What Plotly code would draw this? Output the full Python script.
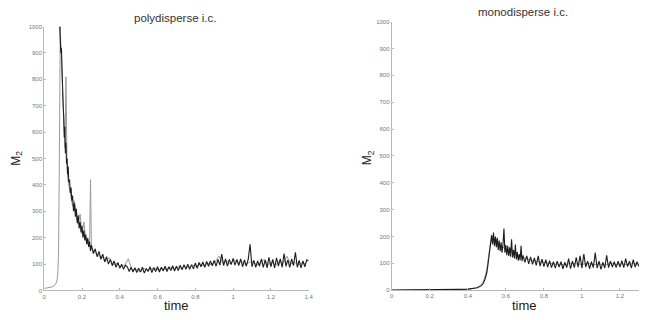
import plotly.graph_objects as go

# ---------------- data: polydisperse i.c. (left) ----------------
poly_t_dark = [0.082, 0.085, 0.088, 0.091, 0.094, 0.097, 0.100, 0.103, 0.106, 0.109,
               0.112, 0.115, 0.118, 0.121, 0.124, 0.127, 0.130, 0.134, 0.138, 0.142,
               0.146, 0.150, 0.155, 0.160, 0.165, 0.170, 0.175, 0.180, 0.185, 0.190,
               0.195, 0.200, 0.205, 0.210, 0.215, 0.220, 0.225, 0.230, 0.235, 0.240,
               0.245, 0.250, 0.26, 0.27, 0.28, 0.29, 0.30, 0.31, 0.32, 0.33,
               0.34, 0.35, 0.36, 0.37, 0.38, 0.39, 0.40, 0.41, 0.42, 0.43,
               0.44, 0.45, 0.46, 0.47, 0.48, 0.49, 0.50, 0.51, 0.52, 0.53,
               0.54, 0.55, 0.56, 0.57, 0.58, 0.59, 0.60, 0.61, 0.62, 0.63,
               0.64, 0.65, 0.66, 0.67, 0.68, 0.69, 0.70, 0.71, 0.72, 0.73,
               0.74, 0.75, 0.76, 0.77, 0.78, 0.79, 0.80, 0.81, 0.82, 0.83,
               0.84, 0.85, 0.86, 0.87, 0.88, 0.89, 0.90, 0.91, 0.92, 0.93,
               0.94, 0.95, 0.96, 0.97, 0.98, 0.99, 1.00, 1.01, 1.02, 1.03,
               1.04, 1.05, 1.06, 1.07, 1.08, 1.09, 1.10, 1.11, 1.12, 1.13,
               1.14, 1.15, 1.16, 1.17, 1.18, 1.19, 1.20, 1.21, 1.22, 1.23,
               1.24, 1.25, 1.26, 1.27, 1.28, 1.29, 1.30, 1.31, 1.32, 1.33,
               1.34, 1.35, 1.36, 1.37, 1.38, 1.39, 1.40]
poly_m2_dark = [1000, 940, 900, 920, 820, 760, 700, 660, 580, 620,
                520, 560, 480, 500, 440, 470, 410, 420, 370, 390,
                340, 360, 300, 330, 280, 310, 255, 285, 235, 260,
                220, 245, 200, 228, 190, 212, 175, 198, 165, 185,
                150, 172, 140, 158, 128, 148, 118, 138, 108, 128,
                100, 118, 94, 112, 88, 106, 84, 100, 80, 96,
                90, 72, 88, 70, 86, 68, 84, 70, 88, 66,
                84, 72, 90, 68, 86, 72, 90, 70, 88, 74,
                92, 72, 90, 76, 94, 74, 92, 76, 96, 78,
                98, 80, 100, 80, 98, 82, 104, 84, 106, 90,
                108, 88, 110, 92, 112, 94, 114, 92, 118, 96,
                138, 94, 120, 92, 118, 98, 122, 96, 118, 94,
                120, 90, 116, 92, 118, 175, 90, 114, 88, 112,
                92, 120, 88, 116, 86, 126, 90, 118, 86, 124,
                92, 120, 88, 140, 92, 116, 88, 120, 94, 145,
                88, 114, 86, 112, 90, 116, 112]

poly_t_grey = [0.0, 0.01, 0.02, 0.03, 0.04, 0.05, 0.055, 0.06, 0.065, 0.07,
               0.073, 0.076, 0.079, 0.082, 0.085, 0.088, 0.091, 0.094, 0.097, 0.100,
               0.105, 0.110, 0.115, 0.118, 0.121, 0.125, 0.13, 0.14, 0.15, 0.16,
               0.17, 0.18, 0.19, 0.20, 0.21, 0.22, 0.23, 0.24, 0.245, 0.25,
               0.265, 0.285, 0.305, 0.325, 0.345, 0.365, 0.385, 0.405, 0.425, 0.445,
               0.465, 0.485, 0.505, 0.525, 0.545, 0.565, 0.585, 0.605, 0.625, 0.645,
               0.665, 0.685, 0.705, 0.725, 0.745, 0.765, 0.785, 0.805, 0.825, 0.845,
               0.865, 0.885, 0.905, 0.925, 0.945, 0.965, 0.985, 1.005, 1.025, 1.045,
               1.065, 1.085, 1.105, 1.125, 1.145, 1.165, 1.185, 1.205, 1.225, 1.245,
               1.265, 1.285, 1.305, 1.325, 1.345, 1.365, 1.385]
poly_m2_grey = [8, 9, 10, 11, 13, 16, 19, 24, 32, 48,
                80, 160, 400, 850, 1000, 930, 870, 800, 740, 660,
                600, 540, 810, 500, 460, 420, 400, 360, 320, 340,
                275, 250, 290, 215, 260, 190, 200, 170, 420, 160,
                148, 132, 128, 112, 124, 98, 102, 90, 94, 120,
                78, 80, 72, 84, 76, 80, 86, 78, 84, 80,
                88, 82, 90, 84, 92, 88, 96, 92, 100, 94,
                104, 98, 108, 130, 104, 112, 100, 116, 104, 110,
                98, 106, 112, 96, 104, 118, 98, 108, 96, 112,
                102, 130, 100, 108, 96, 104, 100]

# ---------------- data: monodisperse i.c. (right) ----------------
mono_t_dark = [0.0, 0.05, 0.1, 0.15, 0.2, 0.25, 0.3, 0.35, 0.4, 0.43,
               0.45, 0.47, 0.48, 0.49, 0.50, 0.505, 0.51, 0.515, 0.52, 0.525,
               0.53, 0.535, 0.54, 0.545, 0.55, 0.555, 0.56, 0.565, 0.57, 0.575,
               0.58, 0.585, 0.59, 0.595, 0.60, 0.605, 0.61, 0.615, 0.62, 0.625,
               0.63, 0.635, 0.64, 0.645, 0.65, 0.655, 0.66, 0.665, 0.67, 0.675,
               0.68, 0.685, 0.69, 0.70, 0.71, 0.72, 0.73, 0.74, 0.75, 0.76,
               0.77, 0.78, 0.79, 0.80, 0.81, 0.82, 0.83, 0.84, 0.85, 0.86,
               0.87, 0.88, 0.89, 0.90, 0.91, 0.92, 0.93, 0.94, 0.95, 0.96,
               0.97, 0.98, 0.99, 1.00, 1.01, 1.02, 1.03, 1.04, 1.05, 1.06,
               1.07, 1.08, 1.09, 1.10, 1.11, 1.12, 1.13, 1.14, 1.15, 1.16,
               1.17, 1.18, 1.19, 1.20, 1.21, 1.22, 1.23, 1.24, 1.25, 1.26,
               1.27, 1.28, 1.29, 1.30]
mono_m2_dark = [1, 1, 1, 1, 2, 2, 2, 3, 4, 6,
                9, 16, 24, 40, 65, 90, 125, 160, 175, 205,
                170, 215, 165, 200, 160, 195, 150, 185, 145, 178,
                140, 172, 230, 140, 168, 130, 165, 128, 160, 125,
                190, 122, 150, 118, 170, 115, 142, 110, 135, 112,
                165, 108, 130, 104, 128, 98, 124, 96, 120, 92,
                128, 90, 116, 88, 114, 86, 110, 84, 106, 82,
                108, 86, 106, 80, 104, 84, 118, 80, 108, 84,
                122, 86, 128, 82, 135, 86, 108, 80, 106, 84,
                140, 82, 108, 78, 104, 82, 130, 84, 108, 86,
                106, 84, 108, 86, 110, 84, 118, 88, 108, 82,
                114, 86, 106, 88]

mono_t_grey = [0.0, 0.1, 0.2, 0.3, 0.4, 0.44, 0.46, 0.48, 0.49, 0.50,
               0.51, 0.515, 0.52, 0.53, 0.54, 0.55, 0.56, 0.58, 0.60, 0.62,
               0.64, 0.66, 0.68, 0.70, 0.73, 0.76, 0.79, 0.82, 0.85, 0.88,
               0.91, 0.94, 0.97, 1.00, 1.03, 1.06, 1.09, 1.12, 1.15, 1.18,
               1.21, 1.24, 1.27, 1.30]
mono_m2_grey = [0, 1, 1, 2, 3, 8, 14, 30, 50, 80,
                130, 165, 180, 200, 175, 190, 160, 165, 150, 145,
                140, 130, 125, 118, 112, 108, 104, 100, 98, 96,
                95, 100, 98, 96, 100, 95, 98, 94, 100, 96,
                98, 95, 100, 96]

y_ticks = [0, 100, 200, 300, 400, 500, 600, 700, 800, 900, 1000]
titles = ["polydisperse i.c.", "monodisperse i.c."]
x_label = "time"
y_label = "M<sub>2</sub>"

DARK = "#1e1e1e"
GREY = "#9a9a9a"
AXIS = "#b8b8b8"
TXT = "Liberation Sans, Arial, sans-serif"
TICKF = dict(family=TXT, size=6, color="#777777")

fig = go.Figure()
fig.add_trace(go.Scatter(x=poly_t_grey, y=poly_m2_grey, mode="lines",
                         line=dict(color=GREY, width=1.0), xaxis="x", yaxis="y"))
fig.add_trace(go.Scatter(x=poly_t_dark, y=poly_m2_dark, mode="lines",
                         line=dict(color=DARK, width=1.1), xaxis="x", yaxis="y"))
fig.add_trace(go.Scatter(x=mono_t_grey, y=mono_m2_grey, mode="lines",
                         line=dict(color=GREY, width=1.0), xaxis="x2", yaxis="y2"))
fig.add_trace(go.Scatter(x=mono_t_dark, y=mono_m2_dark, mode="lines",
                         line=dict(color=DARK, width=1.1), xaxis="x2", yaxis="y2"))

common_x = dict(showline=True, linecolor=AXIS, linewidth=1, ticks="inside", ticklen=2,
                tickcolor=AXIS, showgrid=False, zeroline=False, tickfont=TICKF,
                dtick=0.2, tick0=0, fixedrange=True)
common_y = dict(showline=True, linecolor=AXIS, linewidth=1, ticks="inside", ticklen=2,
                tickcolor=AXIS, showgrid=False, zeroline=False, tickfont=TICKF,
                tickvals=y_ticks, range=[0, 1000], fixedrange=True)

fig.update_layout(
    width=645, height=320,
    margin=dict(l=0, r=0, t=0, b=0),
    paper_bgcolor="white", plot_bgcolor="white",
    showlegend=False,
    xaxis=dict(domain=[0.0662, 0.4806], range=[0, 1.4], anchor="y", **common_x),
    yaxis=dict(domain=[0.0844, 0.925], anchor="x", **common_y),
    xaxis2=dict(domain=[0.6109, 0.9984], range=[0, 1.3], anchor="y2", **common_x),
    yaxis2=dict(domain=[0.0853, 0.9406], anchor="x2", **common_y),
    annotations=[
        dict(text=titles[0], x=0.271, y=0.953, xref="paper", yref="paper",
             showarrow=False, xanchor="center", yanchor="middle",
             font=dict(family=TXT, size=11.5, color="#333333")),
        dict(text=titles[1], x=0.817, y=0.972, xref="paper", yref="paper",
             showarrow=False, xanchor="center", yanchor="middle",
             font=dict(family=TXT, size=11.5, color="#333333")),
        dict(text=x_label, x=0.273, y=0.0375, xref="paper", yref="paper",
             showarrow=False, xanchor="center", yanchor="middle",
             font=dict(family=TXT, size=13, color="#222222")),
        dict(text=x_label, x=0.819, y=0.0375, xref="paper", yref="paper",
             showarrow=False, xanchor="center", yanchor="middle",
             font=dict(family=TXT, size=13, color="#222222")),
        dict(text=y_label, x=0.023, y=0.506, xref="paper", yref="paper",
             showarrow=False, xanchor="center", yanchor="middle", textangle=-90,
             font=dict(family=TXT, size=12, color="#222222")),
        dict(text=y_label, x=0.574, y=0.506, xref="paper", yref="paper",
             showarrow=False, xanchor="center", yanchor="middle", textangle=-90,
             font=dict(family=TXT, size=12, color="#222222")),
    ],
)

fig.write_html("out.html")
